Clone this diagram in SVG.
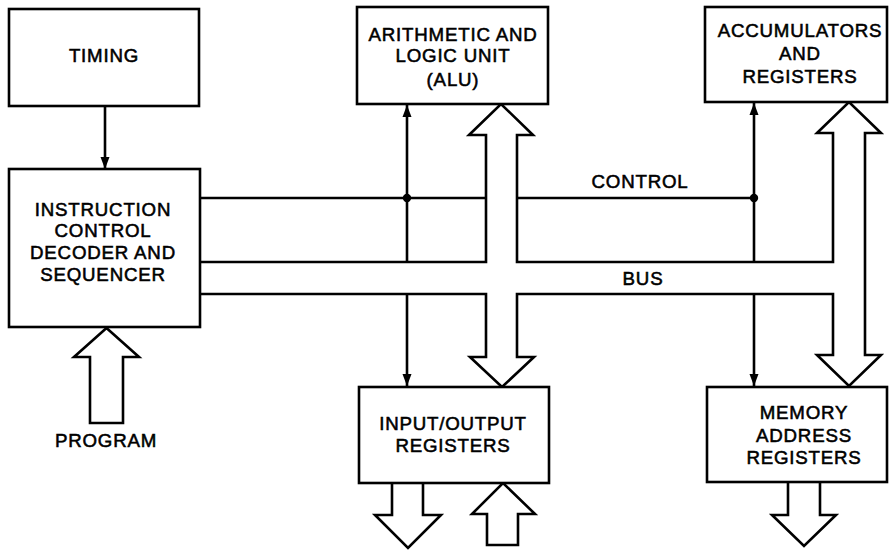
<svg xmlns="http://www.w3.org/2000/svg" width="890" height="550" viewBox="0 0 890 550">
  <style>
    .box { fill: #fff; stroke: #000; stroke-width: 2.6; }
    .wire { fill: none; stroke: #000; stroke-width: 2.6; }
    .fat { fill: #fff; stroke: #000; stroke-width: 2.6; stroke-linejoin: miter; }
    .lbl { font-family: "Liberation Sans", Arial, sans-serif; font-size: 18.7px; letter-spacing: 0.8px; fill: #000; stroke: #000; stroke-width: 0.55; text-anchor: middle; }
  </style>
  <defs>
    <marker id="tip" markerUnits="userSpaceOnUse" markerWidth="12" markerHeight="16" refX="16" refY="6" viewBox="0 0 16 12" orient="auto">
      <path d="M0,0 L16,6 L0,12 Z" fill="#000"/>
    </marker>
  </defs>

  <rect width="890" height="550" fill="#fff"/>

  <!-- bus and control wiring -->
  <g id="connectors">
    <!-- control line -->
    <line class="wire" x1="200" y1="198" x2="486" y2="198"/>
    <line class="wire" x1="517" y1="198" x2="754" y2="198"/>
    <circle cx="407" cy="198" r="4.2" fill="#000"/>
    <circle cx="754" cy="198" r="4.2" fill="#000"/>

    <!-- control taps -->
    <line class="wire" x1="105" y1="106" x2="105" y2="169" marker-end="url(#tip)"/>
    <line class="wire" x1="407" y1="262" x2="407" y2="105" marker-end="url(#tip)"/>
    <line class="wire" x1="754" y1="262" x2="754" y2="103" marker-end="url(#tip)"/>
    <line class="wire" x1="407" y1="294" x2="407" y2="386" marker-end="url(#tip)"/>
    <line class="wire" x1="754" y1="294" x2="754" y2="386" marker-end="url(#tip)"/>

    <!-- data bus: upper rail with ALU and accumulator branches -->
    <path class="fat" d="M200,262 H486 V135 H469 L501,104 L533,135 H517 V262 H833 V133 H817 L849,102 L881,133 H865 V355 H881 L849,386 L817,355 H833 V294 H517 V357 H534 L502,387 L470,357 H486 V294 H200"/>

    <!-- program input -->
    <path class="fat" d="M90,423 V357 H74 L106.5,328 L139,357 H123 V423 Z"/>

    <!-- I/O external arrows -->
    <path class="fat" d="M392,483 V515 H375 L408,548 L441,515 H423 V483"/>
    <path class="fat" d="M487,545 V514 H472 L503,483 L535,514 H518 V545 Z"/>

    <!-- memory address output -->
    <path class="fat" d="M788,482 V515 H772 L804,546 L836,515 H820 V482"/>

    <text class="lbl" x="640" y="188">CONTROL</text>
    <text class="lbl" x="643" y="285">BUS</text>
    <text class="lbl" x="106" y="447">PROGRAM</text>
  </g>

  <g id="timing">
    <rect class="box" x="9" y="9" width="190" height="97"/>
    <text class="lbl" x="104" y="62">TIMING</text>
  </g>

  <g id="decoder">
    <rect class="box" x="9" y="169" width="191" height="158"/>
    <text class="lbl" x="103" y="216">INSTRUCTION</text>
    <text class="lbl" x="103" y="237">CONTROL</text>
    <text class="lbl" x="103" y="259">DECODER AND</text>
    <text class="lbl" x="103" y="281">SEQUENCER</text>
  </g>

  <g id="alu">
    <rect class="box" x="357" y="7" width="191" height="97"/>
    <text class="lbl" x="453" y="41">ARITHMETIC AND</text>
    <text class="lbl" x="453" y="62">LOGIC UNIT</text>
    <text class="lbl" x="453" y="86">(ALU)</text>
  </g>

  <g id="accumulators">
    <rect class="box" x="705" y="7" width="182" height="95"/>
    <text class="lbl" x="800" y="37">ACCUMULATORS</text>
    <text class="lbl" x="800" y="60">AND</text>
    <text class="lbl" x="800" y="83">REGISTERS</text>
  </g>

  <g id="io">
    <rect class="box" x="359" y="387" width="190" height="96"/>
    <text class="lbl" x="453" y="430">INPUT/OUTPUT</text>
    <text class="lbl" x="453" y="452">REGISTERS</text>
  </g>

  <g id="memory">
    <rect class="box" x="707" y="387" width="180" height="95"/>
    <text class="lbl" x="804" y="419">MEMORY</text>
    <text class="lbl" x="804" y="442">ADDRESS</text>
    <text class="lbl" x="804" y="464">REGISTERS</text>
  </g>
</svg>
